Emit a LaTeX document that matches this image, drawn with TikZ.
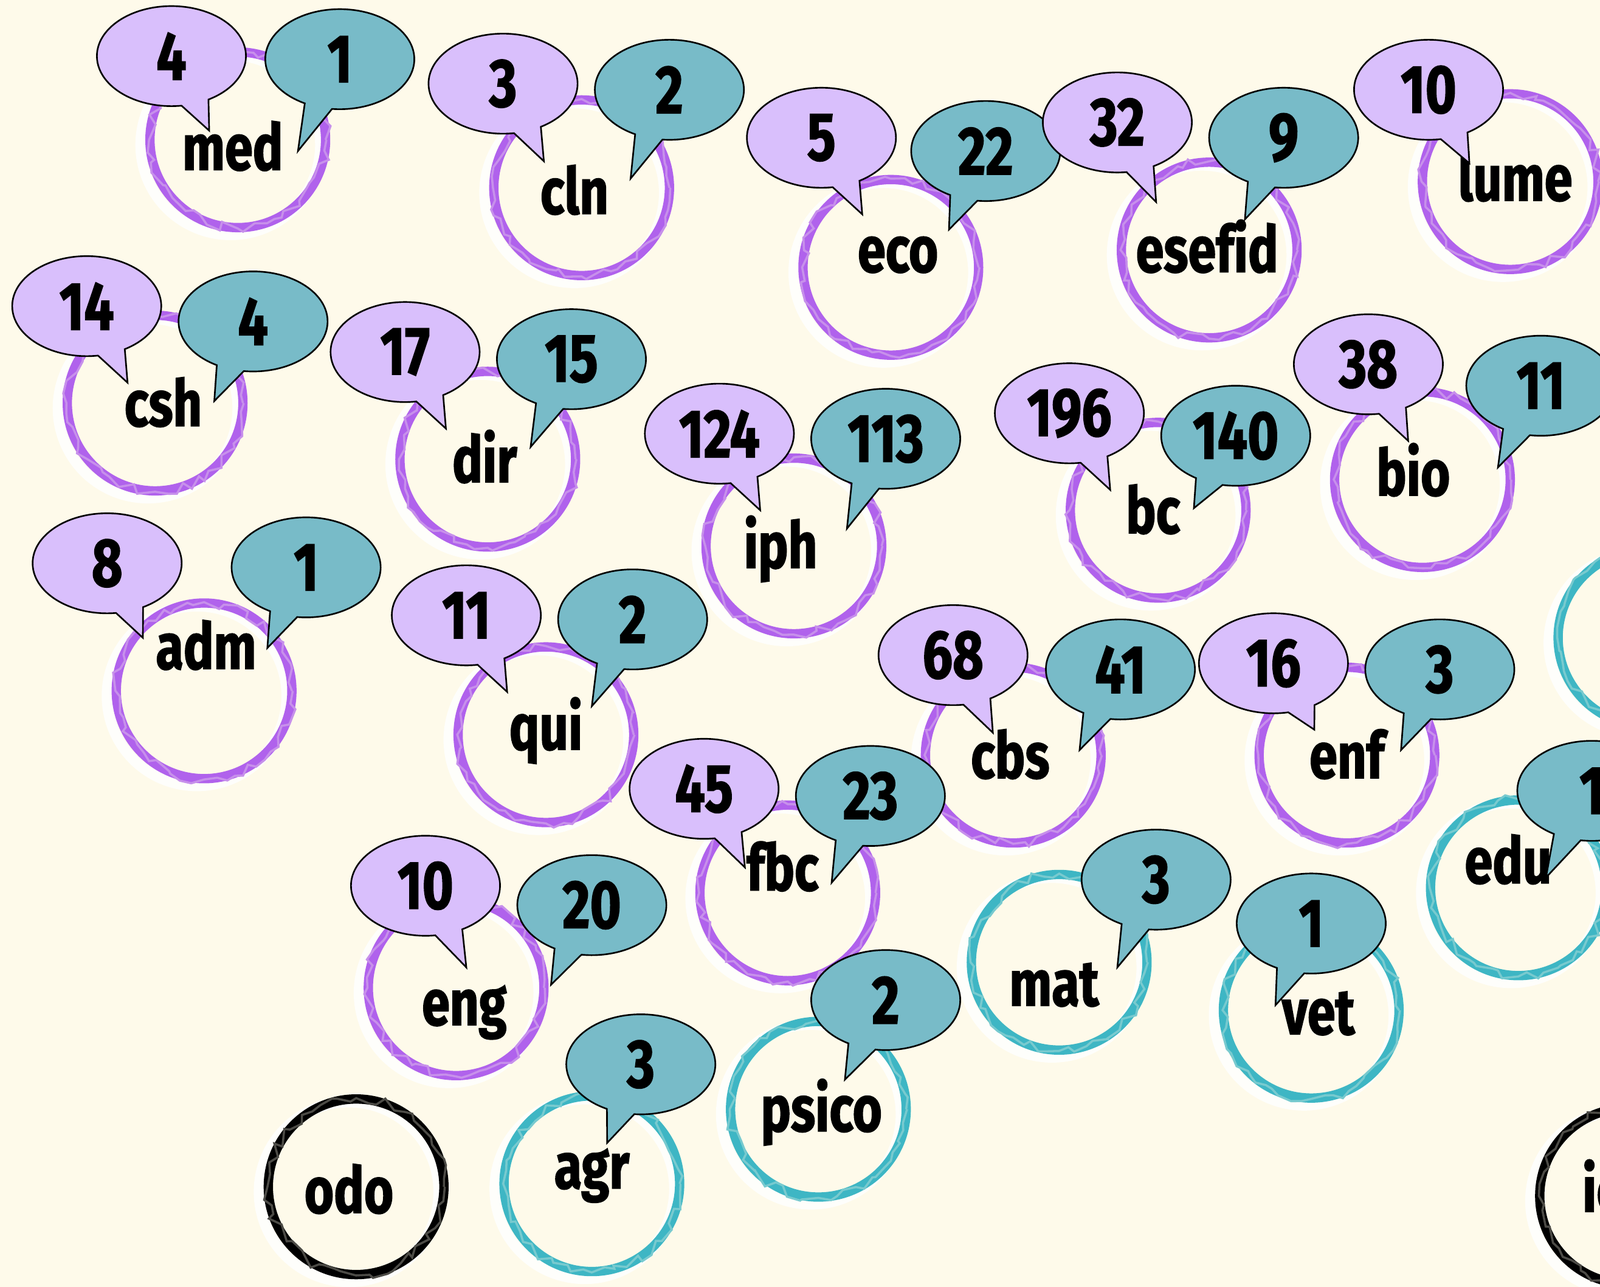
\documentclass[tikz,border=0pt]{standalone}
\usepackage{fontspec}
\usepackage{tikz}
\usetikzlibrary{shapes.callouts,backgrounds,decorations.pathmorphing}
\usepackage{xcolor}

\newfontfamily\tagfont{Fira Sans}[FakeStretch=0.78, Ligatures=NoCommon, BoldFeatures={FakeBold=1.5}]

\definecolor{paper}{HTML}{FEFAEA}
\definecolor{purp}{HTML}{B062EC}
\definecolor{tealring}{HTML}{3EB6C4}
\definecolor{askfill}{HTML}{D9BFFC}
\definecolor{ansfill}{HTML}{78BBC8}

\begin{document}
\begin{tikzpicture}[
        x=0.01cm, y=-0.01cm,
        every node/.style={font=\tagfont\bfseries\fontsize{18}{20}\selectfont},
        ring/.style={circle, draw=#1, line width=2.6pt, minimum size=1.72cm, inner sep=0pt,
            postaction={draw=#1!70!paper, line width=0.6pt, decorate,
                decoration={random steps, segment length=2.5pt, amplitude=1.4pt}}},
        tag/.style={text height=1ex, text depth=0pt, inner sep=0pt},
        bubble/.style={ellipse callout, draw=black, line width=0.45pt, minimum width=1.46cm,
            minimum height=0.98cm, inner sep=0pt, callout pointer arc=22,
            font=\tagfont\bfseries\fontsize{19}{21}\selectfont},
        ask/.style={bubble, fill=askfill, callout absolute pointer={#1}},
        ans/.style={bubble, fill=ansfill, callout absolute pointer={#1}},
        halo/.style={draw=white, line width=3pt, opacity=0.85}
    ]
        \useasboundingbox (0,0) rectangle (1568,1261);
        \clip (0,0) rectangle (1568,1261);

        % Rings
        \node[ring=purp] (med) at (233,137) {};
        \node[ring=purp] (cln) at (570,184) {};
        \node[ring=purp] (eco) at (873,262) {};
        \node[ring=purp] (esefid) at (1185,245) {};
        \node[ring=purp] (lume) at (1480,178) {};
        \node[ring=purp] (csh) at (152,395) {};
        \node[ring=purp] (dir) at (478,450) {};
        \node[ring=purp] (iph) at (778,535) {};
        \node[ring=purp] (bc) at (1135,500) {};
        \node[ring=purp] (bio) at (1394,470) {};
        \node[ring=tealring] (edge) at (1613,625) {};
        \node[ring=purp] (adm) at (200,677) {};
        \node[ring=purp] (qui) at (535,720) {};
        \node[ring=purp] (cbs) at (993,740) {};
        \node[ring=purp] (enf) at (1320,740) {};
        \node[ring=purp] (fbc) at (772,875) {};
        \node[ring=tealring] (edu) at (1488,870) {};
        \node[ring=purp] (eng) at (447,968) {};
        \node[ring=tealring] (mat) at (1038,943) {};
        \node[ring=tealring] (vet) at (1285,990) {};
        \node[ring=tealring] (psico) at (802,1087) {};
        \node[ring=tealring] (agr) at (580,1160) {};
        \node[ring=black] (odo) at (349,1163) {};
        \node[ring=black] (ic) at (1595,1172) {};

        % Labels
        \node[tag] (med-t) at (228,159) {med};
        \node[tag] (cln-t) at (563,202) {cln};
        \node[tag] (eco-t) at (880,259) {eco};
        \node[tag] (esefid-t) at (1183,259) {esefid};
        \node[tag] (lume-t) at (1485,189) {lume};
        \node[tag] (csh-t) at (160,410) {csh};
        \node[tag] (dir-t) at (475,465) {dir};
        \node[tag] (iph-t) at (765,549) {iph};
        \node[tag] (bc-t) at (1130,515) {bc};
        \node[tag] (bio-t) at (1385,478) {bio};
        \node[tag] (adm-t) at (202,648) {adm};
        \node[tag] (qui-t) at (535,727) {qui};
        \node[tag] (cbs-t) at (990,755) {cbs};
        \node[tag] (enf-t) at (1320,755) {enf};
        \node[tag] (fbc-t) at (767,865) {fbc};
        \node[tag] (edu-t) at (1478,858) {edu};
        \node[tag] (eng-t) at (455,997) {eng};
        \node[tag] (mat-t) at (1033,978) {mat};
        \node[tag] (vet-t) at (1292,1006) {vet};
        \node[tag] (psico-t) at (805,1101) {psico};
        \node[tag] (agr-t) at (580,1157) {agr};
        \node[tag] (odo-t) at (342,1181) {odo};
        \node[tag, anchor=west] (ic-t) at (1550,1180) {ic};

        % Speech bubbles
        \node[ask={(205,128)}] (med-l) at (168,55) {4};
        \node[ans={(292,148)}] (med-r) at (333,58) {1};
        \node[ask={(533,158)}] (cln-l) at (493,82) {3};
        \node[ans={(618,175)}] (cln-r) at (656,88) {2};
        \node[ask={(845,210)}] (eco-l) at (805,135) {5};
        \node[ans={(930,225)}] (eco-r) at (966,148) {22};
        \node[ask={(1133,198)}] (esefid-l) at (1095,120) {32};
        \node[ans={(1220,215)}] (esefid-r) at (1258,135) {9};
        \node[ask={(1440,160)}] (lume-l) at (1400,88) {10};
        \node[ask={(125,375)}] (csh-l) at (85,300) {14};
        \node[ans={(210,393)}] (csh-r) at (248,315) {4};
        \node[ask={(437,420)}] (dir-l) at (397,345) {17};
        \node[ans={(520,438)}] (dir-r) at (560,352) {15};
        \node[ask={(745,500)}] (iph-l) at (705,425) {124};
        \node[ans={(830,518)}] (iph-r) at (868,430) {113};
        \node[ask={(1088,480)}] (bc-l) at (1048,405) {196};
        \node[ans={(1170,498)}] (bc-r) at (1211,427) {140};
        \node[ask={(1380,432)}] (bio-l) at (1341,357) {38};
        \node[ans={(1468,458)}] (bio-r) at (1510,378) {11};
        \node[ask={(140,625)}] (adm-l) at (105,552) {8};
        \node[ans={(262,635)}] (adm-r) at (300,556) {1};
        \node[ask={(497,678)}] (qui-l) at (457,603) {11};
        \node[ans={(580,692)}] (qui-r) at (620,607) {2};
        \node[ask={(973,718)}] (cbs-l) at (934,642) {68};
        \node[ans={(1058,735)}] (cbs-r) at (1098,656) {41};
        \node[ask={(1288,715)}] (enf-l) at (1248,650) {16};
        \node[ans={(1373,735)}] (enf-r) at (1411,656) {3};
        \node[ask={(730,850)}] (fbc-l) at (690,773) {45};
        \node[ans={(815,865)}] (fbc-r) at (853,780) {23};
        \node[ans={(1515,860)}] (edu-r) at (1560,775) {1};
        \node[ask={(457,948)}] (eng-l) at (417,868) {10};
        \node[ans={(540,965)}] (eng-r) at (580,887) {20};
        \node[ans={(1095,948)}] (mat-r) at (1133,862) {3};
        \node[ans={(1250,985)}] (vet-r) at (1285,905) {1};
        \node[ans={(828,1058)}] (psico-r) at (868,980) {2};
        \node[ans={(595,1120)}] (agr-r) at (628,1043) {3};

        % Paper and white smudges behind the rings
        \begin{scope}[on background layer]
            \fill[paper] (0,0) rectangle (1568,1261);
            \foreach \n in {med,cln,eco,esefid,lume,csh,dir,iph,bc,bio,edge,adm,qui,cbs,enf,fbc,edu,eng,mat,vet,psico,agr,odo,ic}
                \draw[halo] ([shift={(-7,5)}]\n.center) circle (0.88cm);
        \end{scope}
    \end{tikzpicture}
\end{document}
